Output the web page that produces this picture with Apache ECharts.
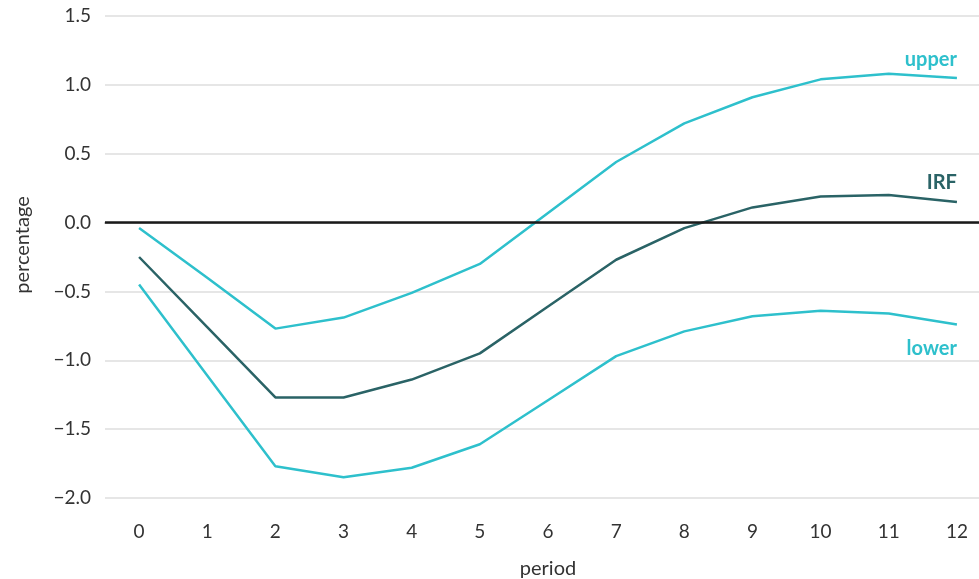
<!DOCTYPE html>
<html>
<head>
<meta charset="utf-8">
<style>
  html, body { margin: 0; padding: 0; background: #ffffff; }
  #chart { width: 979px; height: 579px; }
</style>
<script src="https://cdn.jsdelivr.net/npm/echarts@6/dist/echarts.min.js"></script>
</head>
<body>
<div id="chart"></div>
<script>
// Impulse response with its confidence band, by period
const periods = ['0', '1', '2', '3', '4', '5', '6', '7', '8', '9', '10', '11', '12'];
const irf   = [-0.25, -0.76, -1.27, -1.27, -1.14, -0.95, -0.61, -0.27, -0.04, 0.11, 0.19, 0.20, 0.15];
const upper = [-0.04, -0.40, -0.77, -0.69, -0.51, -0.30, 0.07, 0.44, 0.72, 0.91, 1.04, 1.08, 1.05];
const lower = [-0.45, -1.11, -1.77, -1.85, -1.78, -1.61, -1.29, -0.97, -0.79, -0.68, -0.64, -0.66, -0.74];
const yTicks = [-2.0, -1.5, -1.0, -0.5, 0.0, 0.5, 1.0, 1.5];

const BAND = '#2ec0cc';
const MAIN = '#2a6366';
const FONT = 'Lato';
const TEXT = '#333333';

// Attach a name label to the final point of a series
function withEndLabel(values, text, color, offsetY, pos) {
  return values.map((v, i) => {
    if (i !== values.length - 1) return v;
    return {
      value: v,
      label: {
        show: true,
        position: pos,
        formatter: text,
        color: color,
        fontFamily: FONT,
        fontSize: 20,
        fontWeight: 'bold',
        align: 'right',
        offset: [0, offsetY]
      }
    };
  });
}

function lineSeries(name, values, color, labelOffset, labelPos, z) {
  return {
    name: name,
    type: 'line',
    data: withEndLabel(values, name, color, labelOffset, labelPos),
    symbol: 'circle',
    symbolSize: 0,
    showSymbol: true,
    showAllSymbol: true,
    lineStyle: { color: color, width: 2.5 },
    itemStyle: { color: color },
    z: z
  };
}

const chart = echarts.init(document.getElementById('chart'), null, { renderer: 'canvas' });

const irfSeries = lineSeries('IRF', irf, MAIN, -4, 'top', 4);
irfSeries.markLine = {
  silent: true,
  symbol: 'none',
  label: { show: false },
  lineStyle: { color: '#1a1a1a', width: 2.5, type: 'solid' },
  data: [{ yAxis: 0 }]
};

chart.setOption({
  backgroundColor: '#ffffff',
  animation: false,
  grid: { left: 105, right: -12, top: 16, bottom: 81, containLabel: false, outerBoundsMode: 'none' },
  xAxis: {
    type: 'category',
    data: periods,
    boundaryGap: true,
    name: 'period',
    nameLocation: 'middle',
    nameGap: 61,
    nameTextStyle: { fontFamily: FONT, fontSize: 20, color: TEXT },
    axisLine: { show: true, lineStyle: { color: '#c8c8c8', width: 2 } },
    axisTick: { show: false },
    axisLabel: { interval: 0, margin: 24, fontFamily: FONT, fontSize: 19, color: TEXT },
    splitLine: { show: false }
  },
  yAxis: {
    type: 'value',
    min: yTicks[0],
    max: yTicks[yTicks.length - 1],
    interval: 0.5,
    name: 'percentage',
    nameLocation: 'middle',
    nameGap: 72,
    nameTextStyle: { fontFamily: FONT, fontSize: 20, color: TEXT, padding: [0, 0, 0, 24] },
    axisLine: { show: false },
    axisTick: { show: false },
    axisLabel: {
      margin: 14,
      fontFamily: FONT,
      fontSize: 19,
      color: TEXT,
      formatter: v => (v < 0 ? '\u2212' : '') + Math.abs(v).toFixed(1)
    },
    splitLine: { show: true, lineStyle: { color: '#e6e6e6', width: 2 } }
  },
  series: [
    lineSeries('upper', upper, BAND, -3, 'top', 3),
    lineSeries('lower', lower, BAND, 9, 'bottom', 3),
    irfSeries
  ]
});
</script>
</body>
</html>
